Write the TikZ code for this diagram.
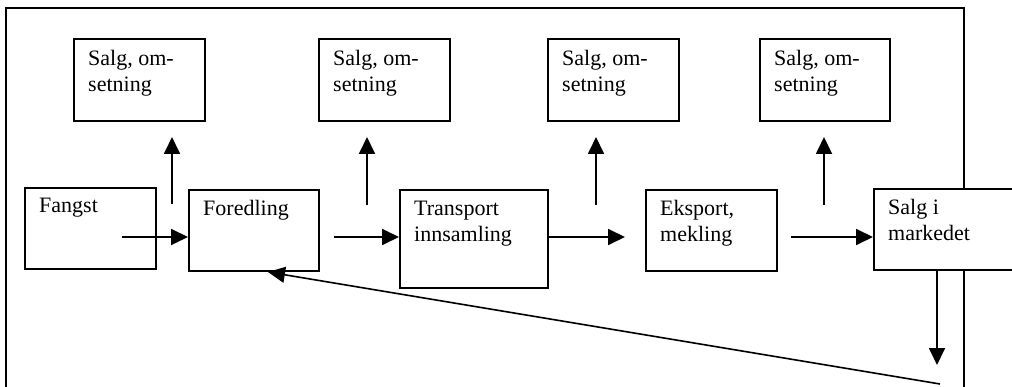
\documentclass[tikz,border=0pt]{standalone}
\usepackage{fontspec}
\setmainfont{Liberation Serif}
\usetikzlibrary{arrows.meta}
\tikzset{
  box/.style={draw, line width=2pt, fill=white, rectangle, inner sep=0pt, anchor=north west},
  lbl/.style={inner sep=0pt, anchor=base west, align=left, font=\fontsize{22}{26}\selectfont},
  flow/.style={line width=1.8pt, -{Triangle[length=17pt,width=16pt]}},
  back/.style={line width=1.6pt, -{Triangle[length=17pt,width=16pt]}},
  frame/.style={line width=1.6pt}
}
\begin{document}
\begin{tikzpicture}[x=1pt,y=-1pt]
\useasboundingbox (0,0) rectangle (1012,387);
\clip (0,0) rectangle (1012,387);

% open outer frame
\draw[frame] (6,395) -- (6,8) -- (964,8) -- (964,395);

% upper row: sales boxes
\node[box, minimum width=131pt, minimum height=82pt] (s1) at (73,38) {};
\node[box, minimum width=131pt, minimum height=82pt] (s2) at (318,38) {};
\node[box, minimum width=131pt, minimum height=82pt] (s3) at (547,38) {};
\node[box, minimum width=130pt, minimum height=82pt] (s4) at (759,38) {};

% lower row: value chain
\node[box, minimum width=131pt, minimum height=81pt] (fangst) at (24,187) {};
\node[box, minimum width=130pt, minimum height=81pt] (foredling) at (188,189) {};
\node[box, minimum width=148pt, minimum height=98pt] (transport) at (399,189) {};
\node[box, minimum width=131pt, minimum height=81pt] (eksport) at (645,189) {};
\node[box, minimum width=150pt, minimum height=81pt] (marked) at (873,188) {};

% labels (base anchor sits on the last line of a two-line label)
\foreach \b in {s1,s2,s3,s4}
  \node[lbl] (t-\b) at ([shift={(15,54)}]\b.north west) {Salg, om-\\setning};
\node[lbl] (t-fangst) at ([shift={(15,26)}]fangst.north west) {Fangst};
\node[lbl] (t-foredling) at ([shift={(15,27)}]foredling.north west) {Foredling};
\node[lbl] (t-transport) at ([shift={(15,53)}]transport.north west) {Transport\\innsamling};
\node[lbl] (t-eksport) at ([shift={(15,53)}]eksport.north west) {Eksport,\\mekling};
\node[lbl] (t-marked) at ([shift={(15,53)}]marked.north west) {Salg i\\markedet};

% free ends of the connectors
\coordinate (f1) at (122,237);
\coordinate (f2) at (334,237);
\coordinate (f3) at (625,237);
\coordinate (f4) at (791,237);
\coordinate (u1a) at (172,204); \coordinate (u1b) at (172,137);
\coordinate (u2a) at (367,205); \coordinate (u2b) at (367,137);
\coordinate (u3a) at (596,205); \coordinate (u3b) at (596,137);
\coordinate (u4a) at (824,205); \coordinate (u4b) at (824,137);
\coordinate (d1) at (937,365);
\coordinate (r1) at (940,384);
\coordinate (r2) at ([xshift=14pt]foredling.south);

% main flow
\draw[flow] (f1) -- (f1 -| foredling.west);
\draw[flow] (f2) -- (f2 -| transport.west);
\draw[flow] (f3 -| transport.east) -- (f3);
\draw[flow] (f4) -- (f4 -| marked.west);

% branches to sales
\draw[flow] (u1a) -- (u1b);
\draw[flow] (u2a) -- (u2b);
\draw[flow] (u3a) -- (u3b);
\draw[flow] (u4a) -- (u4b);

% from market down and back to processing
\draw[flow] (d1 |- marked.south) -- (d1);
\draw[back] (r1) -- (r2);
\end{tikzpicture}
\end{document}
